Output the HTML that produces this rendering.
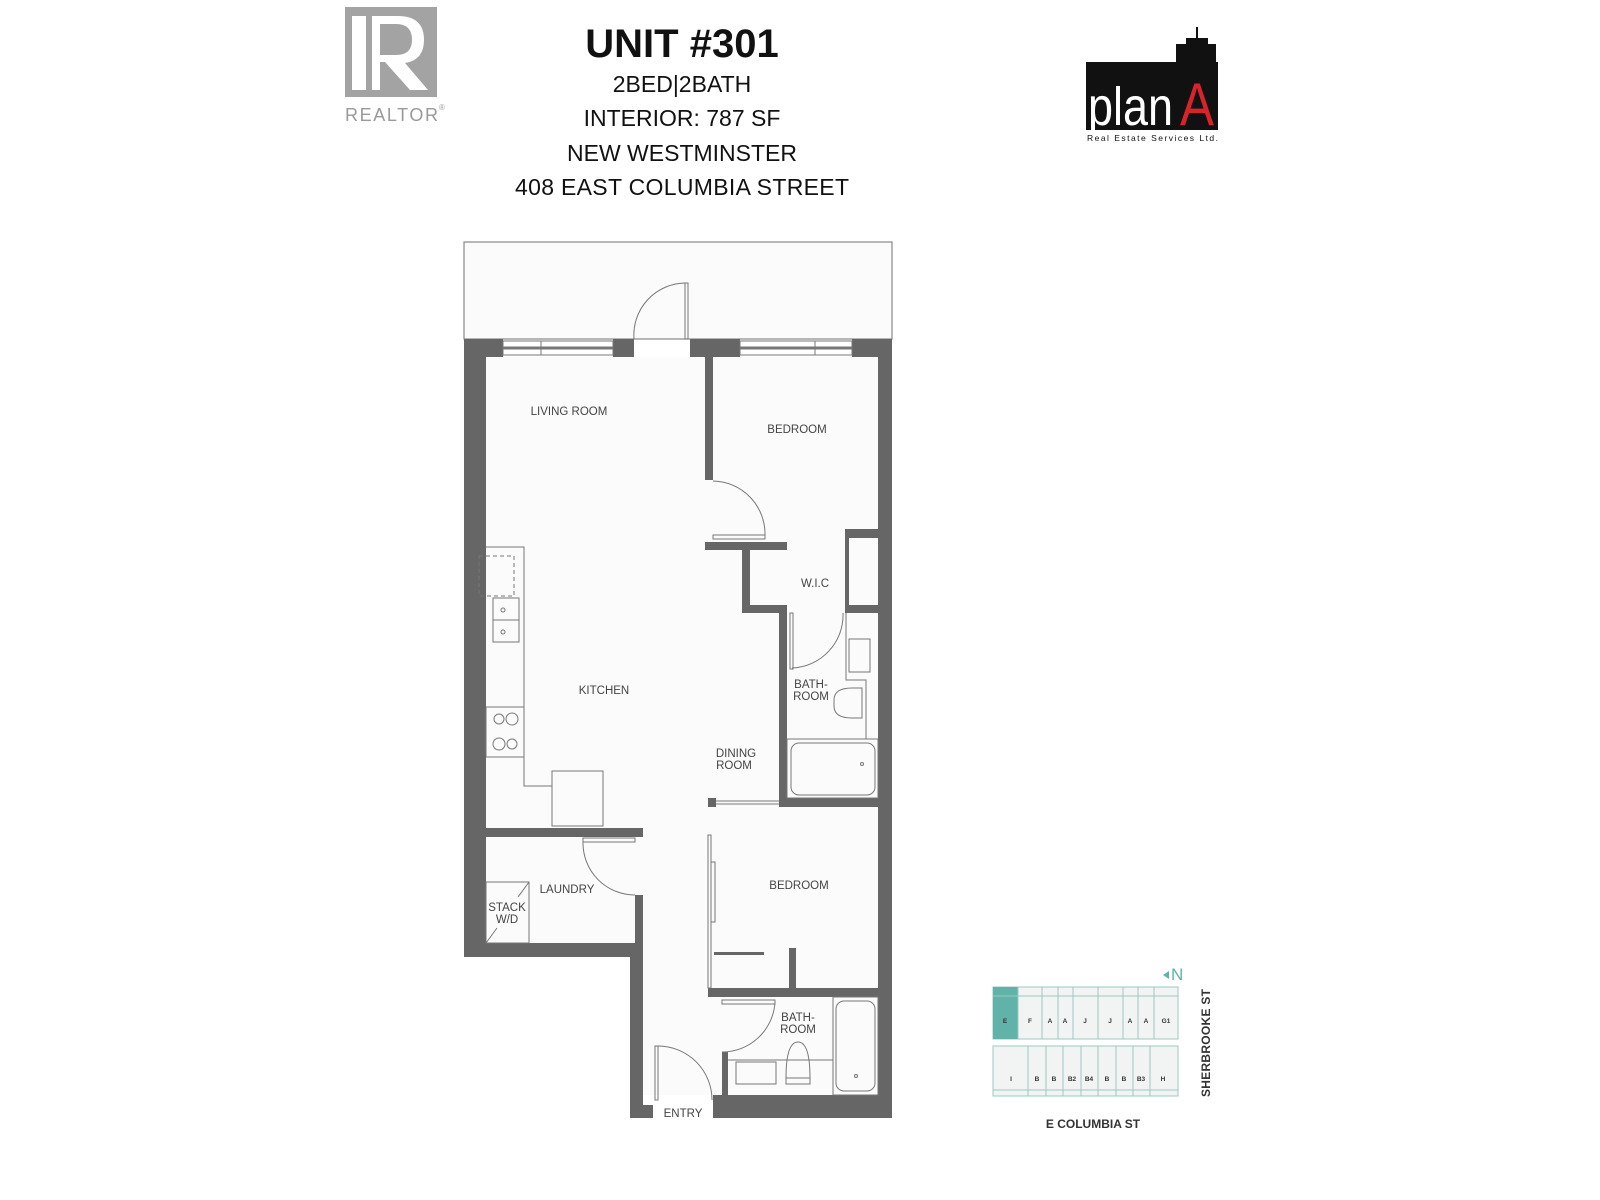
<!DOCTYPE html>
<html><head><meta charset="utf-8"><style>
html,body{margin:0;padding:0;background:#fff;width:1600px;height:1200px;overflow:hidden}
svg{display:block}
text{font-family:"Liberation Sans",sans-serif}
</style></head><body>
<svg width="1600" height="1200" viewBox="0 0 1600 1200" xmlns="http://www.w3.org/2000/svg">
<!-- REALTOR logo -->
<rect x="345" y="7" width="92" height="90" fill="#a3a3a3"/>
<rect x="352" y="16" width="14" height="74" fill="#fff"/>
<path d="M372 16 H398 Q424 16 424 40 Q424 60 405 63 L428 90 H410 L385 62 H380 V90 H372 Z" fill="#fff"/>
<path d="M380 24 H396 Q412 24 412 40 Q412 55 396 55 H380 Z" fill="#a3a3a3"/>
<text x="345" y="121" font-size="18" fill="#999" textLength="93">REALTOR</text>
<text x="439" y="110" font-size="8" fill="#999">®</text>
<!-- Header text -->
<g fill="#111" text-anchor="middle">
<text x="682" y="57" font-size="40" font-weight="bold">UNIT #301</text>
<text x="682" y="92" font-size="23">2BED|2BATH</text>
<text x="682" y="126" font-size="23">INTERIOR: 787 SF</text>
<text x="682" y="161" font-size="23">NEW WESTMINSTER</text>
<text x="682" y="195" font-size="23" textLength="334">408 EAST COLUMBIA STREET</text>
</g>
<!-- Plan A logo -->
<rect x="1086" y="62" width="132" height="68" fill="#111"/>
<rect x="1176" y="44" width="40" height="20" fill="#111"/>
<rect x="1186" y="38" width="22" height="10" fill="#111"/>
<rect x="1196" y="27" width="2" height="12" fill="#111"/>
<text x="1088" y="125" font-size="54" fill="#fff" font-family="Liberation Sans Narrow, Liberation Sans" textLength="85" lengthAdjust="spacingAndGlyphs">plan</text>
<text x="1180" y="125" font-size="60" fill="#d8232a" textLength="34" lengthAdjust="spacingAndGlyphs">A</text>
<text x="1087" y="141" font-size="8.5" fill="#111" textLength="131">Real Estate Services Ltd.</text>

<!-- FLOOR PLAN -->
<rect x="464" y="242" width="428" height="97" fill="#fbfbfb" stroke="#888" stroke-width="1.2"/>
<path d="M486 357 H878 V1095 H643 V957 H486 Z" fill="#fbfbfb"/>
<g fill="#666">
<rect x="464" y="339" width="39" height="18"/>
<rect x="613" y="339" width="21" height="18"/>
<rect x="690" y="339" width="50" height="18"/>
<rect x="852" y="339" width="40" height="18"/>
<rect x="464" y="339" width="22" height="618"/>
<rect x="878" y="339" width="14" height="779"/>
<rect x="464" y="943" width="179" height="14"/>
<rect x="635" y="895" width="8" height="48"/>
<rect x="630" y="943" width="13" height="175"/>
<rect x="643" y="1105" width="10" height="13"/>
<rect x="713" y="1095" width="179" height="23"/>
<rect x="722" y="1052" width="6" height="43"/>
<rect x="705" y="357" width="8" height="123"/>
<rect x="705" y="542" width="82" height="8"/>
<rect x="742" y="550" width="8" height="63"/>
<rect x="742" y="605" width="45" height="8"/>
<rect x="779" y="605" width="8" height="202"/>
<rect x="845" y="529" width="33" height="9"/>
<rect x="845" y="529" width="4" height="84"/>
<rect x="845" y="605" width="33" height="8"/>
<rect x="779" y="798" width="99" height="9"/>
<rect x="708" y="798" width="8" height="9"/>
<rect x="486" y="828" width="157" height="9"/>
<rect x="708" y="988" width="170" height="9"/>
<rect x="789" y="948" width="7" height="40"/>
<rect x="714" y="952" width="50" height="3"/>
</g>
<g fill="none" stroke="#777" stroke-width="1">
<rect x="503" y="341" width="110" height="14"/><line x1="503" y1="348" x2="613" y2="348" stroke-width="3"/>
<line x1="541" y1="341" x2="541" y2="355"/>
<rect x="740" y="341" width="112" height="14"/><line x1="740" y1="348" x2="852" y2="348" stroke-width="3"/>
<line x1="815" y1="341" x2="815" y2="355"/>
<rect x="685" y="283" width="3" height="56"/>
<path d="M685 283 A52 52 0 0 0 634 339"/>
<rect x="713" y="535" width="52" height="4"/>
<path d="M713 481 A53 53 0 0 1 765 535"/>
<rect x="790" y="613" width="3" height="56"/>
<path d="M843 613 A53 53 0 0 1 792 668"/>
<rect x="583" y="838" width="52" height="4"/>
<path d="M583 842 A52 52 0 0 0 635 895"/>
<rect x="722" y="1000" width="53" height="4"/>
<path d="M775 1002 A53 53 0 0 1 722 1052"/>
<rect x="655" y="1046" width="3" height="54"/>
<path d="M658 1046 A54 54 0 0 1 712 1100"/>
<line x1="716" y1="801" x2="779" y2="801"/><line x1="716" y1="804" x2="779" y2="804"/>
<rect x="708" y="835" width="3" height="153"/>
<rect x="711" y="862" width="4" height="60"/>
<polyline points="486,547 524,547 524,786 552,786"/>
<rect x="479" y="556" width="35" height="40" stroke-dasharray="4,3"/>
<rect x="493" y="598" width="26" height="44"/>
<line x1="493" y1="620" x2="519" y2="620"/>
<circle cx="503" cy="610" r="2"/><circle cx="503" cy="632" r="2"/>
<rect x="486" y="707" width="38" height="50"/>
<circle cx="499" cy="719" r="5"/><circle cx="512" cy="719" r="6"/>
<circle cx="499" cy="744" r="6"/><circle cx="512" cy="744" r="5"/>
<rect x="552" y="771" width="51" height="55"/>
<rect x="486" y="882" width="43" height="61"/>
<line x1="529" y1="882" x2="518" y2="897"/><line x1="497" y1="928" x2="486" y2="943"/>
<polyline points="846,613 846,680 866,680 866,739"/>
<rect x="849" y="639" width="21" height="33"/>
<path d="M834 700 Q834 688 852 688 L862 688 L862 718 L852 718 Q834 718 834 706 Z"/>
<rect x="787" y="739" width="91" height="59"/>
<rect x="791" y="743" width="84" height="52" rx="8"/>
<circle cx="862" cy="764" r="1.5"/>
<rect x="833" y="997" width="45" height="98"/>
<rect x="836" y="1001" width="39" height="90" rx="8"/>
<circle cx="856" cy="1076" r="1.5"/>
<rect x="736" y="1062" width="40" height="22"/>
<line x1="728" y1="1060" x2="833" y2="1060"/>
<path d="M786 1078 Q786 1042 798 1042 Q810 1042 810 1078 Z"/>
<rect x="786" y="1078" width="24" height="6"/>
</g>
<g fill="#444" font-size="11.5" text-anchor="middle">
<text x="569" y="415">LIVING ROOM</text>
<text x="797" y="433">BEDROOM</text>
<text x="815" y="587">W.I.C</text>
<text x="604" y="694">KITCHEN</text>
<text x="736" y="757">DINING</text>
<text x="734" y="769">ROOM</text>
<text x="811" y="688">BATH-</text>
<text x="811" y="700">ROOM</text>
<text x="799" y="889">BEDROOM</text>
<text x="567" y="893">LAUNDRY</text>
<text x="507" y="911">STACK</text>
<text x="507" y="923">W/D</text>
<text x="798" y="1021">BATH-</text>
<text x="798" y="1033">ROOM</text>
<text x="683" y="1117">ENTRY</text>
</g>

<!-- KEY PLAN -->
<g fill="#f2f4f3" stroke="#9cc8c2" stroke-width="1">
<rect x="993" y="987" width="185" height="52"/>
<rect x="993" y="1046" width="185" height="50"/>
</g>
<rect x="993" y="987" width="25" height="52" fill="#5fb3a8"/>
<g stroke="#9cc8c2" stroke-width="1">
<line x1="1018" y1="987" x2="1018" y2="1039"/><line x1="1042" y1="987" x2="1042" y2="1039"/>
<line x1="1058" y1="987" x2="1058" y2="1039"/><line x1="1073" y1="987" x2="1073" y2="1039"/>
<line x1="1098" y1="987" x2="1098" y2="1039"/><line x1="1123" y1="987" x2="1123" y2="1039"/>
<line x1="1138" y1="987" x2="1138" y2="1039"/><line x1="1154" y1="987" x2="1154" y2="1039"/>
<line x1="993" y1="996" x2="1178" y2="996"/>
<line x1="1028" y1="1046" x2="1028" y2="1096"/><line x1="1046" y1="1046" x2="1046" y2="1096"/>
<line x1="1063" y1="1046" x2="1063" y2="1096"/><line x1="1081" y1="1046" x2="1081" y2="1096"/>
<line x1="1098" y1="1046" x2="1098" y2="1096"/><line x1="1116" y1="1046" x2="1116" y2="1096"/>
<line x1="1133" y1="1046" x2="1133" y2="1096"/><line x1="1150" y1="1046" x2="1150" y2="1096"/>
<line x1="993" y1="1090" x2="1178" y2="1090"/>
</g>
<g font-size="6.5" font-weight="bold" fill="#333" text-anchor="middle">
<text x="1005" y="1023">E</text><text x="1030" y="1023">F</text><text x="1050" y="1023">A</text>
<text x="1065" y="1023">A</text><text x="1085" y="1023">J</text><text x="1110" y="1023">J</text>
<text x="1130" y="1023">A</text><text x="1146" y="1023">A</text><text x="1166" y="1023">G1</text>
<text x="1011" y="1081">I</text><text x="1037" y="1081">B</text><text x="1054" y="1081">B</text>
<text x="1072" y="1081">B2</text><text x="1089" y="1081">B4</text><text x="1107" y="1081">B</text>
<text x="1124" y="1081">B</text><text x="1141" y="1081">B3</text><text x="1163" y="1081">H</text>
</g>
<path d="M1163 975 L1169 971 L1169 979 Z" fill="#5fb3a8"/>
<text x="1171" y="980" font-size="17" fill="#5fb3a8">N</text>
<text transform="translate(1210,1097) rotate(-90)" font-size="12" font-weight="bold" fill="#333" textLength="108">SHERBROOKE ST</text>
<text x="1093" y="1128" font-size="12" font-weight="bold" fill="#333" text-anchor="middle">E COLUMBIA ST</text>
</svg>
</body></html>
